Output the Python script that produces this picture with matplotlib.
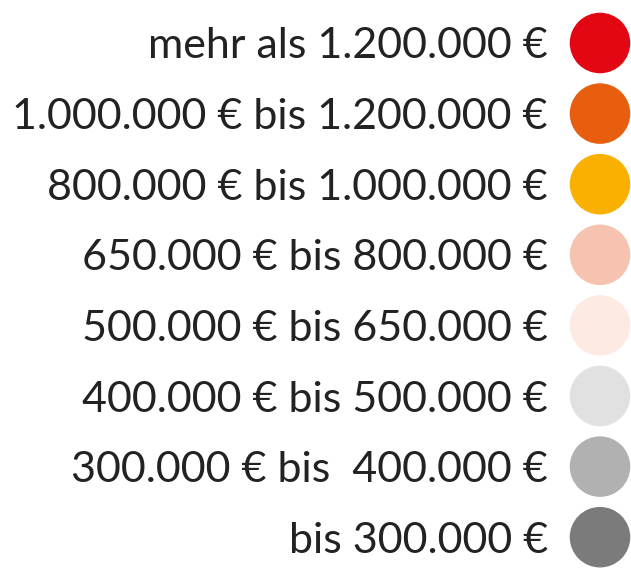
import matplotlib
matplotlib.use("Agg")
import matplotlib.pyplot as plt

labels = [
    "mehr als 1.200.000 €",
    "1.000.000 € bis 1.200.000 €",
    "800.000 € bis 1.000.000 €",
    "650.000 € bis 800.000 €",
    "500.000 € bis 650.000 €",
    "400.000 € bis 500.000 €",
    "300.000 € bis  400.000 €",
    "bis 300.000 €",
]
colors = ["#E30613", "#E85E0F", "#F9B000", "#F6C3B0", "#FDEAE3",
          "#E1E1E1", "#B1B1B1", "#7B7B7B"]

W, H = 631, 571
fig = plt.figure(figsize=(W / 100, H / 100), dpi=100)
ax = fig.add_axes([0, 0, 1, 1])
ax.set_xlim(0, W)
ax.set_ylim(H, 0)
ax.axis("off")

ys = [43 + 70.6 * i for i in range(len(labels))]
ax.scatter([600] * len(ys), ys, s=1900, c=colors, linewidths=0)
for y, lab in zip(ys, labels):
    ax.text(548, y, lab, ha="right", va="center_baseline", fontsize=31,
            family="Lato", color="#222222")

fig.savefig("out.png", dpi=100)
